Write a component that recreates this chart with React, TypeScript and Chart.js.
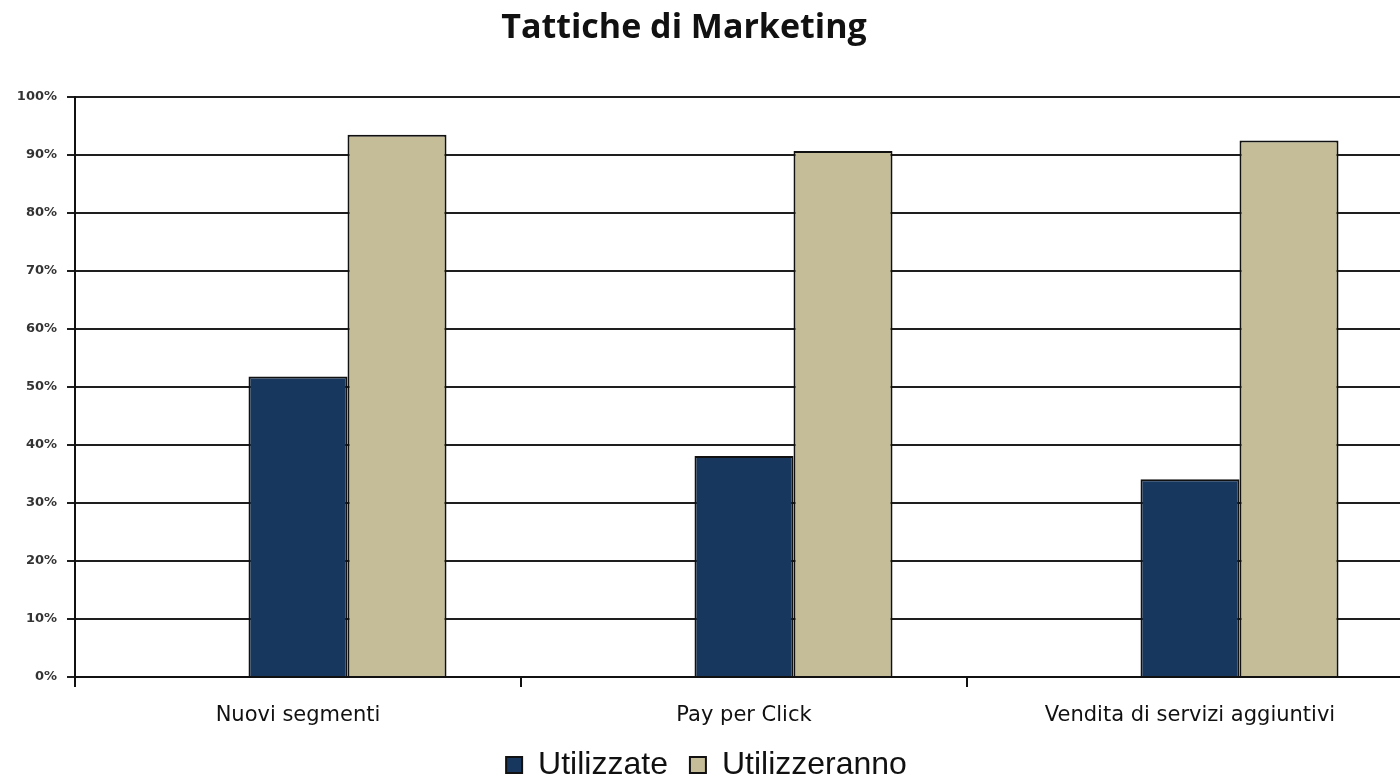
import React, { useEffect, useRef } from "react";
import { Chart, registerables } from "chart.js";

Chart.register(...registerables);

const titleText = "Tattiche di Marketing";
const categories = ["Nuovi segmenti", "Pay per Click", "Vendita di servizi aggiuntivi"];
const seriesNames = ["", "Utilizzate", "Utilizzeranno"];
const emptySeries: (number | null)[] = [null, null, null];
const utilizzate = [51.8, 38.1, 34.1];
const utilizzeranno = [93.5, 90.7, 92.5];
const yTicks = [0, 10, 20, 30, 40, 50, 60, 70, 80, 90, 100];

export default function App() {
  const canvasRef = useRef<HTMLCanvasElement | null>(null);

  useEffect(() => {
    if (!canvasRef.current) return;
    const chart = new Chart(canvasRef.current, {
      type: "bar",
      data: {
        labels: categories,
        datasets: [
          {
            label: seriesNames[0],
            data: emptySeries,
            backgroundColor: "#4F81BD",
            borderColor: "#111",
            borderWidth: 2,
          },
          {
            label: seriesNames[1],
            data: utilizzate,
            backgroundColor: "#17375E",
            borderColor: "#111",
            borderWidth: 2,
          },
          {
            label: seriesNames[2],
            data: utilizzeranno,
            backgroundColor: "#C4BD97",
            borderColor: "#111",
            borderWidth: 2,
          },
        ],
      },
      options: {
        responsive: false,
        animation: false,
        layout: { padding: { top: 97, right: 3, left: 0, bottom: -10 } },
        datasets: { bar: { categoryPercentage: 0.666, barPercentage: 1.0 } },
        plugins: {
          title: { display: false },
          tooltip: { enabled: false },
          legend: {
            position: "bottom",
            labels: {
              filter: (item: any) => item.datasetIndex !== 0,
              font: { family: "'Liberation Sans', Arial, sans-serif", size: 32 },
              color: "#111",
              boxWidth: 16,
              boxHeight: 16,
              padding: 22,
            },
          },
        },
        scales: {
          x: {
            afterFit: (s: any) => {
              s.height = 50;
            },
            grid: {
              display: true,
              drawOnChartArea: false,
              drawTicks: true,
              tickLength: 10,
              color: "#111",
              lineWidth: 2,
              offset: true,
            },
            border: { display: true, color: "#111", width: 2 },
            ticks: {
              font: { family: "'DejaVu Sans', sans-serif", size: 21 },
              color: "#111",
              padding: 16,
              maxRotation: 0,
            },
          },
          y: {
            min: 0,
            max: 100,
            afterFit: (s: any) => {
              s.width = 75;
            },
            afterBuildTicks: (s: any) => {
              s.ticks = yTicks.map((v) => ({ value: v }));
            },
            grid: {
              color: "#1e1e1e",
              lineWidth: 2,
              tickLength: 8,
              drawTicks: true,
            },
            border: { display: true, color: "#111", width: 2 },
            ticks: {
              callback: (v: any) => v + "%",
              font: { family: "'DejaVu Sans', sans-serif", size: 13, weight: "bold" },
              color: "#333",
              padding: 10,
            },
          },
        },
      },
    });
    return () => chart.destroy();
  }, []);

  return (
    <div
      style={{
        position: "fixed",
        left: 0,
        top: 0,
        width: 1400,
        height: 781,
        overflow: "hidden",
        background: "#fff",
      }}
    >
      <canvas
        ref={canvasRef}
        width={1416}
        height={781}
        style={{ position: "absolute", left: 0, top: 0, width: 1416, height: 781 }}
      />
      <div
        style={{
          position: "absolute",
          left: 0,
          width: 1368,
          top: 9,
          textAlign: "center",
          fontFamily: "'Open Sans', Lato, sans-serif",
          fontWeight: 700,
          fontSize: 34,
          lineHeight: "32px",
          color: "#111",
        }}
      >
        {titleText}
      </div>
    </div>
  );
}
